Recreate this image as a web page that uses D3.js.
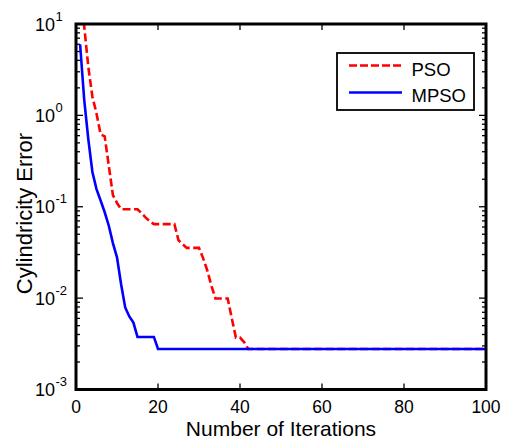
<!DOCTYPE html>
<html>
<head>
<meta charset="utf-8">
<script src="https://cdn.jsdelivr.net/npm/d3@7"></script>
<style>
  html, body { margin: 0; padding: 0; background: #fff; }
  svg { display: block; font-family: "Liberation Sans", Arial, sans-serif; }
</style>
</head>
<body>
<svg id="chart" width="505" height="438"></svg>
<script>
// Convergence of the cylindricity error over 100 iterations
const iterations = d3.range(1, 101);

const psoHead = [25, 9.5, 3.4, 1.6, 1.05, 0.62, 0.59, 0.28, 0.134, 0.11,
  0.094, 0.094, 0.094, 0.094, 0.094, 0.085, 0.076, 0.0695, 0.0645, 0.0645,
  0.0645, 0.0645, 0.0645, 0.0645, 0.043, 0.039, 0.0355, 0.0355, 0.0355, 0.0355,
  0.0274, 0.0202, 0.0138, 0.0099, 0.0099, 0.0099, 0.0099, 0.006, 0.0037, 0.0037,
  0.0033];
const mpsoHead = [6.0, 1.49, 0.55, 0.24, 0.156, 0.117, 0.087, 0.062, 0.04, 0.028,
  0.0142, 0.0079, 0.0063, 0.0054, 0.00376, 0.00376, 0.00376, 0.00376, 0.00376];
const finalError = 0.00278;

const psoValues = iterations.map((d, i) => i < psoHead.length ? psoHead[i] : finalError);
const mpsoValues = iterations.map((d, i) => i < mpsoHead.length ? mpsoHead[i] : finalError);

const xTicks = [0, 20, 40, 60, 80, 100];
const yDecades = [-3, -2, -1, 0, 1];
const seriesNames = ["PSO", "MPSO"];

const svg = d3.select("#chart");
const plotL = 76, plotR = 486, plotT = 24, plotB = 389.5;

const x = d3.scaleLinear().domain([0, 100]).range([plotL, plotR]);
const y = d3.scaleLog().domain([1e-3, 10]).range([plotB, plotT]);

// clip region for the curves
svg.append("defs").append("clipPath").attr("id", "plotClip")
  .append("rect").attr("x", plotL).attr("y", plotT)
  .attr("width", plotR - plotL).attr("height", plotB - plotT);

// minor + major tick positions on the log axis
const minorVals = [];
yDecades.slice(0, -1).forEach(e => {
  for (let m = 2; m <= 9; m++) minorVals.push(m * Math.pow(10, e));
});
const majorVals = yDecades.map(e => Math.pow(10, e));

const tickG = svg.append("g").attr("stroke", "#000").attr("stroke-width", 1.3);
// y ticks on left and right, pointing inward
minorVals.forEach(v => {
  tickG.append("line").attr("x1", plotL).attr("x2", plotL + 4).attr("y1", y(v)).attr("y2", y(v));
  tickG.append("line").attr("x1", plotR).attr("x2", plotR - 4).attr("y1", y(v)).attr("y2", y(v));
});
majorVals.forEach(v => {
  tickG.append("line").attr("x1", plotL).attr("x2", plotL + 7).attr("y1", y(v)).attr("y2", y(v));
  tickG.append("line").attr("x1", plotR).attr("x2", plotR - 7).attr("y1", y(v)).attr("y2", y(v));
});
// x ticks on bottom and top
xTicks.forEach(t => {
  tickG.append("line").attr("x1", x(t)).attr("x2", x(t)).attr("y1", plotB).attr("y2", plotB - 6);
  tickG.append("line").attr("x1", x(t)).attr("x2", x(t)).attr("y1", plotT).attr("y2", plotT + 6);
});

// curves
const line = d3.line()
  .x((d, i) => x(iterations[i]))
  .y(d => y(d));

const curves = svg.append("g").attr("clip-path", "url(#plotClip)");
curves.append("path").datum(psoValues)
  .attr("d", line).attr("fill", "none")
  .attr("stroke", "#ff0000").attr("stroke-width", 2.6)
  .attr("stroke-dasharray", "8,3.5");
curves.append("path").datum(mpsoValues)
  .attr("d", line).attr("fill", "none")
  .attr("stroke", "#0000ff").attr("stroke-width", 2.6);

// frame
svg.append("rect").attr("x", plotL).attr("y", plotT)
  .attr("width", plotR - plotL).attr("height", plotB - plotT)
  .attr("fill", "none").attr("stroke", "#000").attr("stroke-width", 3);

// x tick labels
svg.append("g").selectAll("text").data(xTicks).join("text")
  .attr("x", d => x(d)).attr("y", 413)
  .attr("text-anchor", "middle").attr("font-size", 17.5)
  .text(d => d);

// y tick labels: 10 with a superscript exponent
const yLab = svg.append("g");
yDecades.forEach(e => {
  const yy = y(Math.pow(10, e));
  yLab.append("text").attr("x", 55).attr("y", yy + 6.5)
    .attr("text-anchor", "end").attr("font-size", 18).text("10");
  yLab.append("text").attr("x", 55.5).attr("y", yy - 3.5)
    .attr("text-anchor", "start").attr("font-size", 13).text(e < 0 ? "-" + (-e) : String(e));
});

// axis titles
svg.append("text").attr("x", (plotL + plotR) / 2).attr("y", 435.5)
  .attr("text-anchor", "middle").attr("font-size", 21)
  .text("Number of Iterations");
svg.append("text").attr("transform", "translate(32,213.5) rotate(-90)")
  .attr("text-anchor", "middle").attr("font-size", 22)
  .text("Cylindricity Error");

// legend
const lg = svg.append("g");
lg.append("rect").attr("x", 337).attr("y", 53).attr("width", 137).attr("height", 57)
  .attr("fill", "#fff").attr("stroke", "#000").attr("stroke-width", 1.8);
const legendRows = [
  { name: seriesNames[0], color: "#ff0000", dash: "8,3", ly: 65.5, ty: 76 },
  { name: seriesNames[1], color: "#0000ff", dash: null, ly: 92.5, ty: 101.5 }
];
legendRows.forEach(r => {
  lg.append("line").attr("x1", 349).attr("x2", 402).attr("y1", r.ly).attr("y2", r.ly)
    .attr("stroke", r.color).attr("stroke-width", 2.6)
    .attr("stroke-dasharray", r.dash);
  lg.append("text").attr("x", 411.5).attr("y", r.ty).attr("font-size", 18.5).text(r.name);
});
</script>
</body>
</html>
